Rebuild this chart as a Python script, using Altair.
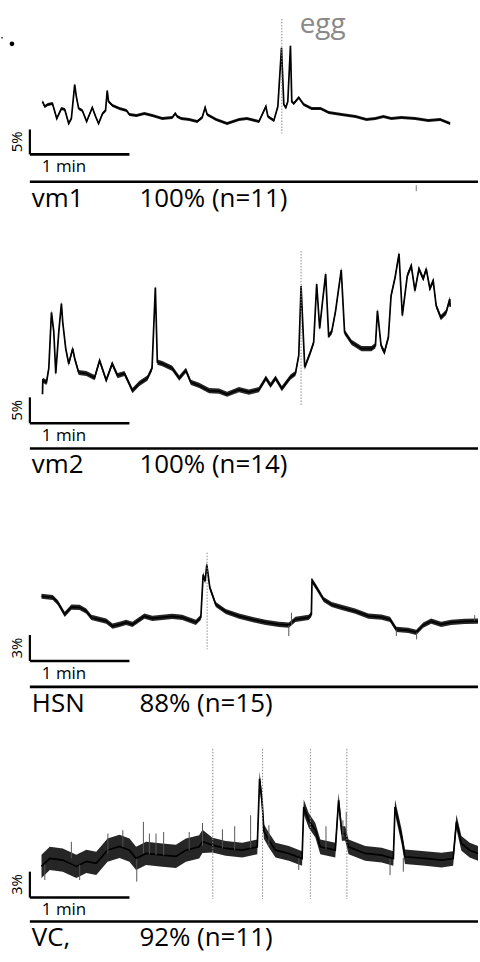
import altair as alt
import pandas as pd

FONT = "Open Sans"

# ---------------- data ----------------
cells = ["vm1", "vm2", "HSN", "VC,"]
response = ["100% (n=11)", "100% (n=14)", "88% (n=15)", "92% (n=11)"]
scale_pct = [5, 5, 3, 3]          # vertical scale bar (% dF/F)
scale_sec = 60                    # horizontal scale bar (1 min)
event_label = "egg"

vm1_t = [7.6, 9.0, 10.8, 13.6, 16.2, 19.0, 21.0, 23.4, 25.0, 27.0, 28.0, 29.4, 31.6, 34.2, 37.6,
         39.6, 41.4, 43.8, 45.6, 46.6, 47.4, 49.8, 54.0, 58.2, 60.0, 64.2, 69.0, 73.8, 79.8, 85.8,
         87.6, 88.8, 91.2, 96.0, 100.8, 103.8, 105.6, 106.8, 112.2, 118.8, 126.0, 130.8, 138.0,
         142.2, 143.4, 147.0, 149.4, 151.6, 153.0, 154.2, 155.4, 157.0, 157.8, 159.0, 162.0, 165.0,
         169.8, 175.2, 180.0, 187.8, 196.2, 202.8, 208.2, 213.0, 217.8, 223.8, 232.2, 240.0, 247.2,
         253.2]
vm1_v = [10.6, 9.6, 10.0, 10.2, 7.2, 9.2, 9.0, 6.2, 7.2, 14.0, 11.6, 9.2, 8.8, 6.6, 9.4,
         7.6, 6.2, 8.2, 8.8, 12.8, 10.6, 9.8, 9.2, 8.8, 8.0, 7.8, 8.2, 7.8, 7.2, 7.4,
         8.2, 7.6, 7.2, 7.0, 6.6, 7.4, 9.4, 8.0, 7.0, 6.2, 7.0, 7.2, 6.6,
         9.6, 7.6, 6.8, 9.6, 21.4, 10.0, 9.4, 10.6, 21.8, 10.6, 10.2, 11.4, 10.0,
         9.2, 9.2, 8.4, 8.0, 7.6, 7.0, 7.2, 7.6, 7.2, 7.4, 7.2, 6.8, 7.0,
         6.2]

vm2_t = [7.6, 7.8, 10.0, 11.4, 13.0, 14.4, 15.6, 17.4, 19.0, 19.8, 21.6, 23.4, 25.8, 27.0, 29.4,
         34.0, 39.0, 42.0, 46.0, 49.6, 52.8, 57.0, 61.8, 66.0, 70.8, 73.6, 75.6, 76.8, 79.8, 85.8,
         90.0, 94.0, 97.0, 102.0, 108.0, 114.0, 118.8, 126.0, 132.0, 138.0, 142.2, 145.0, 148.0,
         151.8, 157.0, 160.0, 162.0, 163.4, 165.6, 169.0, 171.0, 172.8, 174.6, 176.4, 178.2, 180.0,
         181.8, 184.2, 187.6, 189.6, 193.8, 199.8, 205.8, 208.2, 209.4, 211.6, 213.6, 216.0, 217.6,
         220.0, 222.4, 224.4, 227.4, 229.8, 232.0, 234.4, 237.0, 238.8, 241.0, 243.0, 244.8, 247.6,
         250.8, 253.0, 253.2]
vm2_v = [5.6, 8.3, 7.9, 10.6, 21.4, 17.7, 9.6, 17.6, 23.1, 19.5, 14.4, 11.5, 14.4, 12.5, 9.8,
         9.6, 8.8, 12.1, 8.3, 11.5, 9.2, 9.6, 6.3, 7.7, 8.7, 10.6, 26.2, 11.8, 11.5, 10.6,
         8.7, 10.2, 7.9, 7.3, 6.3, 6.2, 5.6, 6.5, 6.0, 6.5, 8.7, 7.3, 8.7,
         6.7, 8.9, 9.6, 13.1, 26.5, 10.8, 13.7, 15.6, 26.9, 18.3, 23.7, 28.8, 16.9,
         17.6, 21.7, 29.6, 17.6, 15.6, 14.4, 14.4, 15.0, 21.7, 15.0, 13.7, 16.6, 24.6,
         28.1, 32.7, 20.8, 28.5, 30.4, 25.6, 29.8, 27.9, 29.8, 26.0, 27.5, 22.7, 20.4,
         21.4, 24.0, 22.5]

hsn_t = [7.0, 13.8, 16.8, 21.0, 25.0, 30.0, 34.0, 37.0, 46.0, 49.8, 54.0, 58.0, 61.8, 69.0, 73.8,
         79.8, 85.8, 91.8, 100.0, 103.0, 104.4, 105.6, 106.6, 108.4, 112.0, 118.0, 126.0, 133.8,
         142.0, 150.0, 156.0, 160.0, 168.0, 169.6, 170.0, 172.8, 177.0, 181.8, 187.8, 196.0, 204.0,
         211.8, 217.0, 220.8, 228.0, 232.8, 237.0, 241.8, 247.8, 253.8, 262.0, 270.0]
hsn_v = [7.50, 7.35, 6.77, 5.39, 6.23, 6.20, 5.77, 5.04, 4.62, 4.04, 4.23, 4.47, 4.23, 5.19, 4.93,
         5.04, 5.16, 5.04, 4.47, 5.04, 10.0, 9.23, 11.16, 8.50, 6.54, 5.73, 5.19, 4.81,
         4.47, 4.23, 4.15, 4.81, 5.04, 5.39, 9.31, 8.47, 7.12, 6.54, 6.20, 5.77, 5.19,
         5.08, 4.81, 3.65, 3.54, 3.31, 4.15, 4.62, 4.23, 4.47, 4.58, 4.62]

vc_t = [7.0, 12.0, 19.8, 28.0, 34.0, 40.0, 46.8, 54.0, 60.0, 64.0, 70.0, 79.8, 88.0, 94.0, 102.0,
        104.0, 110.0, 118.0, 128.0, 137.0, 138.4, 140.0, 141.0, 144.0, 148.0, 156.0, 164.0, 165.0,
        168.0, 172.0, 175.0, 184.0, 186.0, 188.0, 190.0, 192.0, 202.0, 212.0, 219.0, 220.0, 224.0,
        226.0, 238.0, 248.0, 255.0, 257.0, 260.0, 265.0, 270.0]
vc_v = [3.61, 4.53, 4.34, 3.61, 4.19, 3.96, 5.49, 5.92, 5.49, 4.53, 5.11, 4.92, 4.77, 5.49, 5.88,
        6.50, 6.07, 5.69, 5.49, 5.88, 13.77, 10.88, 7.65, 6.65, 5.49, 5.11, 4.53, 10.50,
        8.95, 7.80, 5.88, 5.49, 11.26, 7.42, 7.42, 5.88, 5.11, 4.92, 4.53, 10.50, 7.04,
        4.73, 4.53, 4.34, 4.53, 8.77, 6.27, 5.49, 5.11]

vm1_noise = [0.3]
vm2_noise = [0.5]
hsn_noise = [0.3]
vc_noise_t = [7.0, 104.0, 105.0, 270.0]
vc_noise = [1.35, 1.35, 0.85, 0.85]

# isolated noise spikes (time s, from %, to %)
hsn_spk_t = [157.6, 156.0, 220.8, 233.0, 268.0]
hsn_spk_a = [4.15, 4.15, 3.65, 3.31, 4.62]
hsn_spk_b = [5.58, 2.88, 2.88, 2.50, 5.30]
vc_spk_t = [25.0, 47.0, 68.4, 72.0, 76.0, 80.6, 104.0, 123.4, 133.0, 144.0, 178.4, 188.6, 190.6,
            9.0, 30.0, 64.4, 162.0, 217.0, 225.0, 56.0, 96.0, 116.0]
vc_spk_a = [4.53, 5.11, 5.11, 5.0, 4.9, 4.9, 6.0, 5.5, 5.7, 6.0, 5.6, 7.0, 7.0,
            3.8, 3.8, 4.5, 4.6, 4.5, 4.6, 5.9, 5.5, 5.7]
vc_spk_b = [6.46, 7.42, 8.77, 7.42, 7.42, 7.60, 8.65, 8.26, 9.53, 8.38, 8.26, 8.95, 9.92,
            2.03, 2.03, 1.85, 3.20, 2.60, 3.00, 7.8, 7.6, 7.9]

event_times = [[151.8], [163.4], [106.8], [110.2, 140.2, 169.0, 191.0]]

traces = [(vm1_t, vm1_v), (vm2_t, vm2_v), (hsn_t, hsn_v), (vc_t, vc_v)]
noises = [([0, 270], vm1_noise * 2), ([0, 270], vm2_noise * 2),
          ([0, 270], hsn_noise * 2), (vc_noise_t, vc_noise)]
spikes = [([], [], []), ([], [], []), (hsn_spk_t, hsn_spk_a, hsn_spk_b),
          (vc_spk_t, vc_spk_a, vc_spk_b)]

# ---------------- layout (pixels, relative to each panel) ----------------
W = 480
X_DOMAIN = [-18, 270]        # seconds; puts t=0 at x=30 and 1 min = 100 px
layout = [
    dict(h=220, zero=153.0, k=5.0, sep=180.5, lw=1.7, ev=(17, 132)),
    dict(h=258, zero=203.0, k=5.2, sep=228.3, lw=1.7, ev=(30, 185)),
    dict(h=240, zero=183.7, k=8.667, sep=209.7, lw=1.7, ev=(75, 172)),
    dict(h=244, zero=181.3, k=8.667, sep=205.3, lw=1.7, ev=(32, 182.7)),
]


def noise_at(nt, nv, t):
    # step lookup of the read noise amplitude
    out = nv[0]
    for a, b in zip(nt, nv):
        if t >= a:
            out = b
    return out


def panel(i):
    L = layout[i]
    t, v = traces[i]
    nt, nv = noises[i]
    df = pd.DataFrame({"t": t, "v": v, "n": [noise_at(nt, nv, x) for x in t]})
    H, k, zero = L["h"], L["k"], L["zero"]
    xs = alt.Scale(domain=X_DOMAIN, nice=False, zero=False)
    ys = alt.Scale(domain=[(zero - H) / k, zero / k], nice=False, zero=False)
    X = lambda f: alt.X(f, type="quantitative", scale=xs, axis=None)
    Y = lambda f: alt.Y(f, type="quantitative", scale=ys, axis=None)

    band = alt.Chart(df).transform_calculate(
        hi="datum.v + datum.n", lo="datum.v - datum.n"
    ).mark_area(color="#262626", clip=True).encode(x=X("t"), y=Y("hi"), y2="lo:Q")
    line = alt.Chart(df).mark_line(color="#000000", strokeWidth=L["lw"], clip=True,
                                   strokeJoin="miter").encode(x=X("t"), y=Y("v"))

    st, sa, sbv = spikes[i]
    spk = alt.Chart(pd.DataFrame({"t": st, "a": sa, "b": sbv})).mark_rule(
        color="#555555", strokeWidth=1).encode(x=X("t"), y=Y("a"), y2="b:Q")

    ev = alt.Chart(pd.DataFrame({"t": event_times[i]})).mark_rule(
        color="#8a8a8a", strokeWidth=1, strokeDash=[1.5, 1.5]
    ).encode(x=X("t"), y=alt.value(L["ev"][0]), y2=alt.value(L["ev"][1]))

    sb = pd.DataFrame({"t": [0], "t2": [scale_sec], "v": [0], "v2": [scale_pct[i]],
                       "vm": [scale_pct[i] / 2], "lab": [f"{scale_pct[i]}%"],
                       "tl": ["1 min"]})
    sb_v = alt.Chart(sb).mark_rule(color="black", strokeWidth=2.2).encode(
        x=X("t"), y=Y("v"), y2="v2:Q")
    sb_h = alt.Chart(sb).mark_rule(color="black", strokeWidth=2.6).encode(
        x=X("t"), x2="t2:Q", y=Y("v"))
    sb_pct = alt.Chart(sb).mark_text(angle=270, font=FONT, fontSize=15, align="center",
                                     baseline="middle").encode(
        x=alt.value(17.5), y=Y("vm"), text="lab:N")
    sb_min = alt.Chart(sb).mark_text(font=FONT, fontSize=17, align="left",
                                     baseline="alphabetic", dx=12, dy=18).encode(
        x=X("t"), y=Y("v"), text="tl:N")

    sep = alt.Chart(sb).mark_rule(color="black", strokeWidth=2.6).encode(
        x=alt.value(30), x2=alt.value(480), y=alt.value(L["sep"]))
    lab = pd.DataFrame({"name": [cells[i]], "resp": [response[i]]})
    name = alt.Chart(lab).mark_text(font=FONT, fontSize=26, align="left",
                                    baseline="alphabetic").encode(
        x=alt.value(32), y=alt.value(L["sep"] + 25), text="name:N")
    resp = alt.Chart(lab).mark_text(font=FONT, fontSize=26, align="left",
                                    baseline="alphabetic").encode(
        x=alt.value(140), y=alt.value(L["sep"] + 25), text="resp:N")

    layers = [band, line, spk, ev, sb_v, sb_h, sb_pct, sb_min, sep, name, resp]

    if i == 0:
        egg = alt.Chart(pd.DataFrame({"t": event_times[0][:1], "lab": [event_label]})).mark_text(
            font=FONT, fontSize=28, color="#8a8a8a", align="center", baseline="alphabetic",
            dx=41).encode(x=X("t"), y=alt.value(31.5), text="lab:N")
        dots = alt.Chart(pd.DataFrame({"s": [22]})).mark_circle(
            color="black", opacity=1).encode(
            x=alt.value(12), y=alt.value(42), size=alt.Size("s:Q", scale=None, legend=None))
        dot2 = alt.Chart(pd.DataFrame({"s": [4]})).mark_circle(color="#555", opacity=1).encode(
            x=alt.value(2), y=alt.value(36), size=alt.Size("s:Q", scale=None, legend=None))
        tick = alt.Chart(pd.DataFrame({"s": [1]})).mark_rule(color="#777", strokeWidth=1).encode(
            x=alt.value(418), y=alt.value(184), y2=alt.value(190))
        layers += [egg, dots, dot2, tick]

    return alt.layer(*layers).properties(width=W, height=H)


chart = alt.vconcat(*[panel(i) for i in range(4)], spacing=0, bounds="flush").properties(
    padding=0, background="white"
).configure_view(strokeWidth=0)

chart.save("out.html", embed_options={"renderer": "svg", "actions": False})
